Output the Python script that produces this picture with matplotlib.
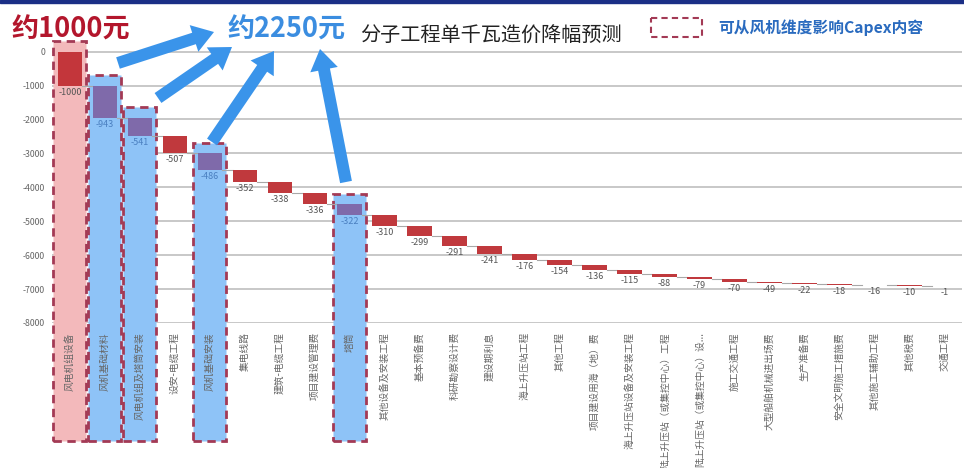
import numpy as np
import matplotlib.pyplot as plt
from matplotlib.patches import Rectangle, FancyArrow

plt.rcParams['font.family'] = ['Noto Sans CJK SC', 'DejaVu Sans']

# 分项降幅（元/kW）
categories = [
    '风电机组设备', '风机基础材料', '风电机组及塔筒安装', '设安-电缆工程', '风机基础安装',
    '集电线路', '建筑-电缆工程', '项目建设管理费', '塔筒', '其他设备及安装工程',
    '基本预备费', '科研勘察设计费', '建设期利息', '海上升压站工程', '其他工程',
    '项目建设用海（地）费', '海上升压站设备及安装工程', '陆上升压站（或集控中心）工程',
    '陆上升压站（或集控中心）设...', '施工交通工程', '大型船舶机械进出场费', '生产准备费',
    '安全文明施工措施费', '其他施工辅助工程', '其他税费', '交通工程',
]
values = [-1000, -943, -541, -507, -486, -352, -338, -336, -322, -310,
          -299, -291, -241, -176, -154, -136, -115, -88, -79, -70,
          -49, -22, -18, -16, -10, -1]

# 风机相关项（虚线框）
turbine_items = ['风电机组设备']
turbine_related = ['风机基础材料', '风电机组及塔筒安装', '风机基础安装', '塔筒']
yticks = list(range(0, -9000, -1000))

fig = plt.figure(figsize=(9.64, 4.68), dpi=100)
ax = fig.add_axes([52 / 964, 145 / 468, 910 / 964, 285.6 / 468])

x = np.arange(len(categories))
vals = np.array(values)
ends = np.cumsum(vals)
starts = ends - vals

bar_colors = []
label_colors = []
for c in categories:
    if c in turbine_related:
        bar_colors.append('#7f6aaa')
        label_colors.append('#4a7fc0')
    elif c in turbine_items:
        bar_colors.append('#c3363b')
        label_colors.append('#555555')
    else:
        bar_colors.append('#c0393d')
        label_colors.append('#555555')

# 网格线
for yv in yticks:
    ax.axhline(yv, color='#c8c8c8', lw=1.4, zorder=0.5)

ax.bar(x, vals, bottom=starts, width=0.7, color=bar_colors, zorder=3)

# 连接线
for i in range(len(x) - 1):
    ax.plot([x[i] + 0.35, x[i + 1] - 0.35], [ends[i], ends[i]],
            color='#a8a8a8', lw=0.8, zorder=2)

for i, v in enumerate(values):
    ax.annotate(f'{v}', (x[i], ends[i]), xytext=(0, -1.5), textcoords='offset points',
                ha='center', va='top', fontsize=6.5, color=label_colors[i], zorder=4)

# 虚线框
box_bottom = -11470
for c in turbine_items + turbine_related:
    i = categories.index(c)
    top = starts[i] + 300
    face = '#f3b9bb' if c in turbine_items else '#8ec3f7'
    ax.add_patch(Rectangle((i - 0.47, box_bottom), 0.94, top - box_bottom,
                           facecolor=face, edgecolor='#a33a55', lw=2,
                           linestyle=(0, (3, 2)), clip_on=False, zorder=1))

ax.set_xlim(-0.51, 25.5)
ax.set_ylim(-8000, 420)
ax.set_yticks(yticks)
ax.set_yticklabels([str(t) for t in yticks], fontsize=6.3, color='#666666')
ax.set_xticks(x)
ax.set_xticklabels(categories, rotation=90, fontsize=7, color='#666666')
ax.tick_params(axis='y', length=0, pad=5)
ax.tick_params(axis='x', length=0, pad=6.5)
ax.xaxis.set_zorder(2.5)
for s in ax.spines.values():
    s.set_visible(False)

# 顶部标注层（像素坐标）
ov = fig.add_axes([0, 0, 1, 1])
ov.set_xlim(0, 964)
ov.set_ylim(468, 0)
ov.axis('off')
ov.set_zorder(5)

ov.add_patch(Rectangle((0, 0), 964, 2.5, color='#1b2f86'))

ov.text(11, 30, '约1000元', color='#b3162c', fontsize=19.5, fontweight='bold', va='center')
ov.text(227, 30, '约2250元', color='#3b8de0', fontsize=19.5, fontweight='bold', va='center')
ov.text(360, 36, '分子工程单千瓦造价降幅预测', color='#222222', fontsize=14.5, va='center')

ov.add_patch(Rectangle((651, 18), 51, 19, fill=False, edgecolor='#a33a55', lw=1.5,
                       linestyle=(0, (3, 2))))
ov.text(718, 28, '可从风机维度影响Capex内容', color='#2a6bbf', fontsize=11.3,
        fontweight='bold', va='center')

arrows = [(118, 63, 214, 32), (158, 98, 232, 47), (212, 142, 274, 51), (346, 182, 320, 49)]
for x0, y0, x1, y1 in arrows:
    ov.add_patch(FancyArrow(x0, y0, x1 - x0, y1 - y0, width=12, head_width=28,
                            head_length=21, length_includes_head=True,
                            color='#3a94ea', lw=0))

fig.savefig('out.png', dpi=100)
